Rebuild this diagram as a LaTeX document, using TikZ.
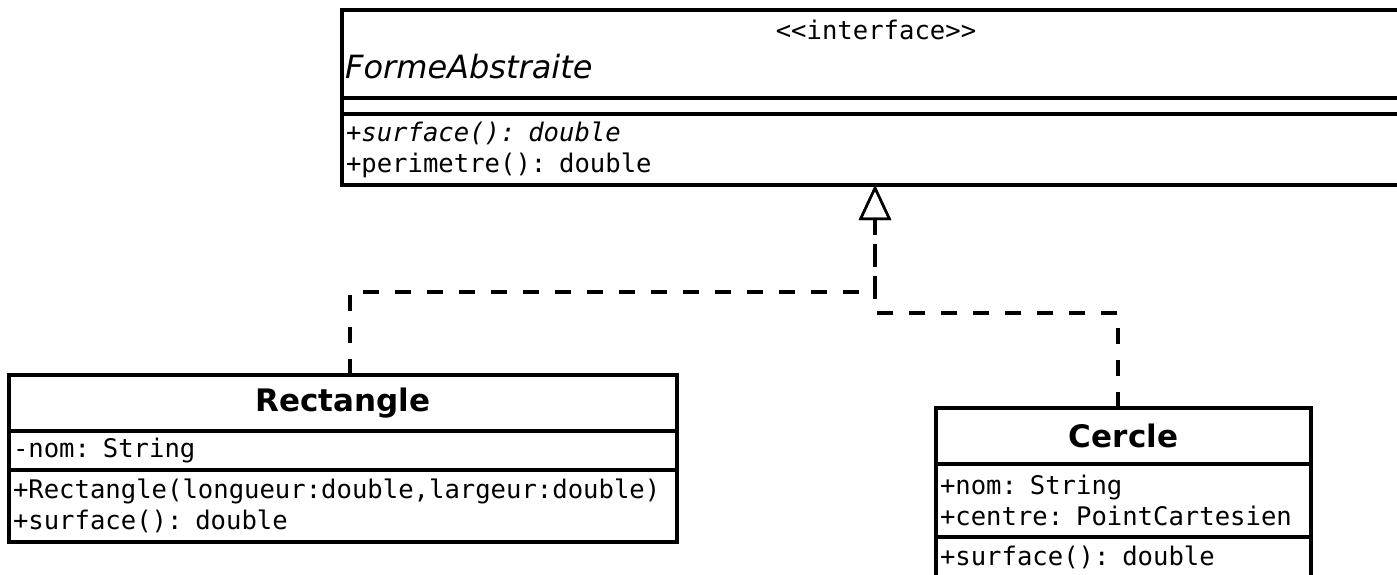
\documentclass[tikz,border=0pt]{standalone}
\usepackage{fontspec}
\setmainfont{DejaVu Sans}[ItalicFont={DejaVu Sans Oblique},BoldFont={DejaVu Sans Bold}]
\setmonofont{DejaVu Sans Mono}[ItalicFont={DejaVu Sans Mono Oblique}]
\usetikzlibrary{arrows.meta}
\newcommand{\memfont}{\ttfamily\fontsize{25.6}{31}\selectfont}
\newcommand{\headfont}{\bfseries\fontsize{31}{37}\selectfont}
\tikzset{
    compart/.style = {rectangle, draw=black, line width=3.5pt, anchor=north west, inner xsep=4pt, inner ysep=2pt, outer sep=0pt},
    classhead/.style = {compart, align=center, font=\headfont},
    members/.style = {compart, align=left, font=\memfont},
    realize/.style = {line width=4pt, dash pattern=on 16pt off 16pt, -{Triangle[open,width=32pt,length=35pt,line width=2.5pt]}}, % dashed, hollow head
}

\begin{document}
\begin{tikzpicture}[x=1pt,y=-1pt]
\useasboundingbox (0,0) rectangle (1397,575);
% interface
\node[compart, minimum width=1068pt, minimum height=88pt] (absh) at (342,10) {};
\node[font=\memfont, anchor=base, inner sep=0pt] (stereo) at (876,40) {<<interface>>};
\node[font=\itshape\fontsize{32}{38}\selectfont, anchor=base west, inner sep=0pt] (absname) at (345,79) {FormeAbstraite};
\node[compart, minimum width=1068pt, minimum height=16pt] (absattr) at (absh.south west) {};
\node[members, minimum width=1068pt, minimum height=71pt, text width=1060pt] (absops) at (absattr.south west) {+\textit{surface(): double}\\+perimetre(): double};
% Rectangle
\node[classhead, minimum width=668pt, minimum height=56pt] (recth) at (9,375) {Rectangle};
\node[members, minimum width=668pt, minimum height=39pt, text width=660pt] (recta) at (recth.south west) {-nom: String};
\node[members, minimum width=668pt, minimum height=72pt, text width=660pt] (recto) at (recta.south west) {+Rectangle(longueur:double,largeur:double)\\+surface(): double};
% Cercle
\node[classhead, minimum width=375pt, minimum height=56pt] (cerh) at (936,408) {Cercle};
\node[members, minimum width=375pt, minimum height=73pt, text width=367pt] (cera) at (cerh.south west) {+nom: String\\+centre: PointCartesien};
\node[members, minimum width=375pt, minimum height=40pt, text width=367pt] (cero) at (cera.south west) {+surface(): double};
%
\coordinate (jt) at (875,292);
\coordinate (jl) at (350,292);
\coordinate (jr) at (1118,313);
\draw[realize] (recth.north -| jl) -- (jl) -- (jt) -- (absops.south -| jt);
\draw[realize] (cerh.north -| jr) -- (jr) -- (jr -| jt) -- (absops.south -| jt);
\end{tikzpicture}
\end{document}
